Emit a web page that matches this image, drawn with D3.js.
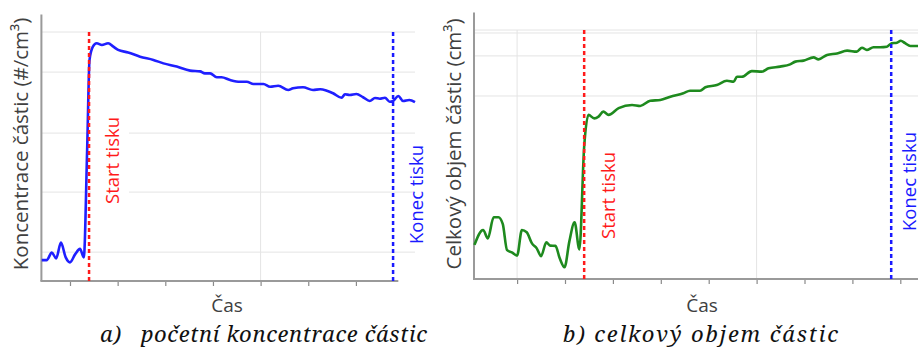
<!DOCTYPE html>
<html>
<head>
<meta charset="utf-8">
<script src="https://cdn.jsdelivr.net/npm/d3@7"></script>
<style>
  body { margin: 0; background: #fff; }
  svg { display: block; }
</style>
</head>
<body>
<div id="mainDiv"></div>
<script>
'use strict';

// panel a) - pocetni koncentrace (relativni jednotky 0-100)
var timeA = [4.07, 5.1, 6.2, 7.1, 8.1, 9.1, 10.0, 11.1, 12.1, 12.9, 13.6, 14.1, 14.8, 15.6, 16.7, 18.0, 19.1, 20.1,
             22.2, 24.7, 27.5, 29.6, 32.4, 35.2, 37.3, 38.3, 39.4, 40.8, 41.8, 43.6, 45.7, 47.1, 48.5, 50.6,
             52.0, 53.7, 55.8, 56.8, 58.9, 61.0, 62.5, 63.9, 65.2, 67.0, 67.7, 68.7, 70.1, 71.5, 72.9, 74.0,
             75.0, 76.1, 77.1, 77.8, 78.9, 79.9, 81.2, 82.4];
var concA = [8.4, 8.4, 11.4, 9.1, 15.4, 9.5, 7.5, 10.8, 12.9, 9.5, 52.6, 88.8, 94.1, 95.5, 94.8, 95.5, 94.1, 92.8,
             91.8, 90.1, 88.8, 87.4, 86.1, 84.5, 84.2, 83.4, 83.4, 81.8, 81.8, 80.7, 80.0, 80.0, 79.1, 79.1,
             78.0, 78.4, 76.7, 77.4, 77.8, 76.7, 77.0, 76.4, 75.4, 73.6, 75.0, 74.7, 75.1, 73.8, 72.3, 73.5,
             73.2, 73.6, 72.0, 72.3, 74.3, 72.3, 72.7, 71.8];

// panel b) - celkovy objem (relativni jednotky 0-100)
var timeB = [1.1, 2.9, 3.9, 5.1, 6.1, 7.0, 7.9, 8.9, 10.0, 11.0, 12.0, 13.1, 14.1, 15.0, 16.1, 16.9, 18.0, 18.9,
             19.9, 20.9, 22.0, 23.0, 24.0, 24.9, 26.1, 27.0, 28.0, 29.1, 31.2, 34.0, 35.7, 37.8, 39.9, 42.0,
             44.7, 46.1, 48.2, 49.3, 51.7, 53.8, 55.2, 55.9, 56.9, 59.0, 61.1, 62.5, 64.9, 67.0, 68.1, 69.8,
             71.9, 72.9, 74.7, 76.8, 78.9, 80.9, 82.0, 83.0, 84.4, 85.8, 87.2, 88.2, 89.3, 90.1, 91.0, 92.1,
             93.7, 95.0];
var volB = [13.7, 19.7, 16.3, 24.8, 24.8, 22.1, 11.6, 10.7, 9.4, 19.7, 18.8, 14.3, 12.3, 9.2, 14.7, 13.4, 13.3, 8.3,
            4.7, 15.0, 22.8, 11.9, 53.1, 65.9, 64.5, 65.2, 67.2, 65.9, 68.6, 69.9, 69.5, 71.6, 71.9, 73.2,
            74.6, 75.6, 75.6, 77.0, 77.9, 79.6, 79.2, 81.2, 81.2, 83.5, 83.3, 84.6, 85.3, 86.2, 87.3, 87.7,
            89.0, 88.2, 90.0, 90.6, 91.7, 91.3, 92.9, 92.0, 93.1, 93.1, 93.3, 94.7, 94.9, 95.7, 94.7, 93.6,
            93.6, 93.6];

var ticksA = [10, 20, 30, 40, 50, 60, 70];
var ticksB = [10, 20, 30, 40, 50, 60, 70, 80, 90];
var hGridA = [11.6, 35.7, 59.4, 83.9, 100];
var hGridB = [73.5, 89.6, 98.8, 100];
var vGridA = [50];
var vGridB = [10, 60];

var eventsA = [{t: 14.0, label: 'Start tisku'}, {t: 77.8, label: 'Konec tisku'}];
var eventsB = [{t: 24.0, label: 'Start tisku'}, {t: 88.1, label: 'Konec tisku'}];

var yLabelA = 'Koncentrace částic (#/cm³)';
var yLabelB = 'Celkový objem částic (cm³)';
var xLabel = 'Čas';
var captionA = 'a)   početní koncentrace částic';
var captionB = 'b) celkový objem částic';


var chart = {};

chart.width = 918;
chart.height = 349;
chart.font = '"Open Sans", "DejaVu Sans", sans-serif';
chart.captionFont = '"Noto Serif", "DejaVu Serif", serif';
chart.eventColors = ['#ff1a1a', '#1a1aff'];

chart.panels = [
    {
        time: timeA, values: concA, color: '#1f1fff',
        x: d3.scaleLinear().domain([4, 82.4]).range([41.4, 415]),
        y: d3.scaleLinear().domain([0, 100]).range([281, 32]),
        axisEnd: 78.9, gridEnd: 82.4,
        ticks: ticksA, hGrid: hGridA, vGrid: vGridA, events: eventsA,
        textBottom: [204, 244], textDx: [29.5, 29.7],
        yLabel: yLabelA, yLabelX: 20, labelCx: 227, caption: captionA, captionX: 100, captionW: 327,
        maskStart: true
    },
    {
        time: timeB, values: volB, color: '#1e8a1e',
        x: d3.scaleLinear().domain([1, 100]).range([474, 948.2]),
        y: d3.scaleLinear().domain([0, 100]).range([279, 30]),
        axisEnd: 100, gridEnd: 100,
        ticks: ticksB, hGrid: hGridB, vGrid: vGridB, events: eventsB,
        textBottom: [239, 231], textDx: [30.5, 24.8],
        yLabel: yLabelB, yLabelX: 453, labelCx: 702, caption: captionB, captionX: 563, captionW: 275,
        maskStart: false
    }
];


chart.appendSVG = function(DOMObj){
    return d3.select(DOMObj)
             .append('svg')
             .attr('width', chart.width)
             .attr('height', chart.height);
};

chart.drawPanel = function(svg, p){

    var g = svg.append('g');
    var x0 = p.x.range()[0];
    var yBottom = p.y(0);

    // grid
    g.selectAll('.hgrid')
     .data(p.hGrid)
     .enter().append('line')
     .attr('x1', x0).attr('x2', p.x(p.gridEnd))
     .attr('y1', function(d){ return p.y(d); })
     .attr('y2', function(d){ return p.y(d); })
     .attr('stroke', '#e4e4e4').attr('stroke-width', 1);

    g.selectAll('.vgrid')
     .data(p.vGrid)
     .enter().append('line')
     .attr('x1', function(d){ return p.x(d); })
     .attr('x2', function(d){ return p.x(d); })
     .attr('y1', p.y(100)).attr('y2', yBottom)
     .attr('stroke', '#e4e4e4').attr('stroke-width', 1);

    // bile pozadi za popiskem startu
    if (p.maskStart) {
        g.append('rect')
         .attr('x', p.x(p.events[0].t) + 2).attr('y', 105)
         .attr('width', 38).attr('height', 110)
         .attr('fill', '#fff');
    }

    // x axis
    var xAxis = d3.axisBottom(p.x).tickValues(p.ticks).tickSize(4).tickFormat('');
    var ax = g.append('g')
              .attr('transform', 'translate(0,' + (yBottom + 1) + ')')
              .call(xAxis);
    ax.select('.domain').remove();
    ax.selectAll('line').attr('stroke', '#8a8a8a').attr('stroke-width', 1.2);

    g.append('line')
     .attr('x1', x0 - 1).attr('x2', p.x(p.axisEnd))
     .attr('y1', yBottom).attr('y2', yBottom)
     .attr('stroke', '#9a9a9a').attr('stroke-width', 2);

    // y axis
    g.append('line')
     .attr('x1', x0).attr('x2', x0)
     .attr('y1', p.y(107)).attr('y2', yBottom)
     .attr('stroke', '#9a9a9a').attr('stroke-width', 2);

    // data line
    var points = p.time.map(function(t, i){ return [t, p.values[i]]; });
    var line = d3.line()
                 .x(function(d){ return p.x(d[0]); })
                 .y(function(d){ return p.y(d[1]); })
                 .curve(d3.curveMonotoneX);

    g.append('path')
     .datum(points)
     .attr('d', line)
     .attr('fill', 'none')
     .attr('stroke', p.color)
     .attr('stroke-width', 2.6)
     .attr('stroke-linejoin', 'round');

    // event lines + labels
    p.events.forEach(function(ev, i){
        var ex = p.x(ev.t);
        g.append('line')
         .attr('x1', ex).attr('x2', ex)
         .attr('y1', p.y(100)).attr('y2', yBottom)
         .attr('stroke', chart.eventColors[i])
         .attr('stroke-width', 2.5)
         .attr('stroke-dasharray', '4,3');

        g.append('text')
         .attr('transform', 'translate(' + (ex + p.textDx[i]) + ',' + p.textBottom[i] + ') rotate(-90)')
         .attr('font-family', chart.font)
         .attr('font-size', 18.5)
         .attr('fill', chart.eventColors[i])
         .text(ev.label);
    });

    // y label
    g.append('text')
     .attr('transform', 'translate(' + (p.yLabelX + 8) + ',144) rotate(-90)')
     .attr('text-anchor', 'middle')
     .attr('font-family', chart.font)
     .attr('font-size', 20.5)
     .attr('fill', '#404040')
     .text(p.yLabel);

    // x label
    g.append('text')
     .attr('x', p.labelCx).attr('y', 312)
     .attr('text-anchor', 'middle')
     .attr('font-family', chart.font)
     .attr('font-size', 19)
     .attr('fill', '#404040')
     .text(xLabel);

    // caption
    g.append('text')
     .attr('x', p.captionX).attr('y', 342)
     .attr('font-family', chart.captionFont)
     .attr('font-style', 'italic')
     .attr('font-size', 22)
     .attr('fill', '#111')
     .attr('textLength', p.captionW)
     .attr('lengthAdjust', 'spacing')
     .style('white-space', 'pre')
     .text(p.caption);
};

chart.start = function(){
    var svg = chart.appendSVG('#mainDiv');
    chart.panels.forEach(function(p){ chart.drawPanel(svg, p); });
};

window.onload = chart.start;
</script>
</body>
</html>
